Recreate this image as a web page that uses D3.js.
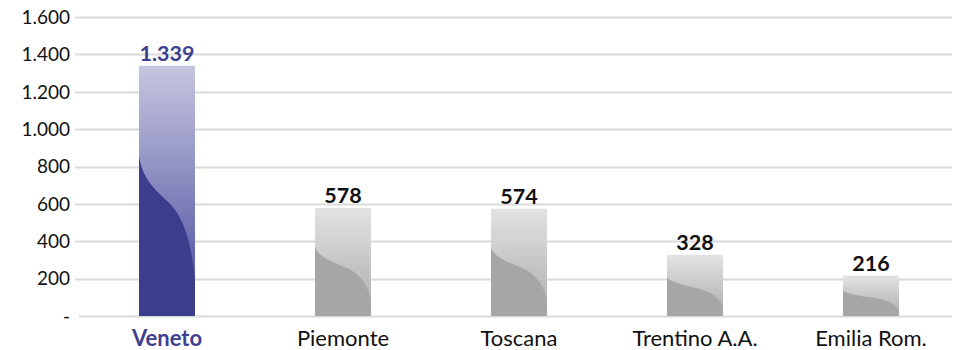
<!DOCTYPE html>
<html>
<head>
<meta charset="utf-8">
<script src="https://cdn.jsdelivr.net/npm/d3@7"></script>
<style>
  html, body { margin: 0; padding: 0; background: #fff; }
  svg { display: block; font-family: Lato, "Open Sans", sans-serif; }
</style>
</head>
<body>
<svg id="chart" width="960" height="350"></svg>
<script>
// Regions and their values
const regions = ["Veneto", "Piemonte", "Toscana", "Trentino A.A.", "Emilia Rom."];
const values = [1339, 578, 574, 328, 216];
const highlighted = ["Veneto"];
const yTicks = [0, 200, 400, 600, 800, 1000, 1200, 1400, 1600];

const svg = d3.select("#chart");
const plot = { left: 79, right: 959, top: 17, bottom: 316 };

const itLocale = d3.formatLocale({ decimal: ",", thousands: ".", grouping: [3], currency: ["€", ""] });
const fmt = itLocale.format(",d");

const x = d3.scaleBand()
  .domain(regions)
  .range([plot.left, plot.right])
  .paddingInner(0.682)
  .paddingOuter(0.341);

const y = d3.scaleLinear()
  .domain([0, 1600])
  .range([plot.bottom, plot.top]);

// Gradients
const defs = svg.append("defs");
function grad(id, top, bottom) {
  const g = defs.append("linearGradient").attr("id", id)
    .attr("x1", 0).attr("y1", 0).attr("x2", 0).attr("y2", 1);
  g.append("stop").attr("offset", "0%").attr("stop-color", top);
  g.append("stop").attr("offset", "100%").attr("stop-color", bottom);
}
grad("gHi", "#C6C6E0", "#44449A");
grad("gLo", "#E3E3E3", "#ABABAB");
const style = {
  hi: { fill: "url(#gHi)", dark: "#3D3D8E", label: "#3F3F90" },
  lo: { fill: "url(#gLo)", dark: "#A6A6A6", label: "#111" }
};
const styleOf = d => highlighted.includes(d) ? style.hi : style.lo;

// Gridlines
svg.append("g").selectAll("line")
  .data(yTicks)
  .join("line")
  .attr("x1", d => d === 0 ? plot.left : 75)
  .attr("x2", 952)
  .attr("y1", d => Math.round(y(d)) + 0.5)
  .attr("y2", d => Math.round(y(d)) + 0.5)
  .attr("stroke", "#DADADA")
  .attr("stroke-width", 2);

// Y axis labels
svg.append("g").selectAll("text")
  .data(yTicks)
  .join("text")
  .attr("x", 70)
  .attr("y", d => y(d))
  .attr("dy", "0.36em")
  .attr("text-anchor", "end")
  .attr("font-size", 19)
  .attr("fill", "#111")
  .text(d => d === 0 ? "-" : fmt(d));

// Bars
const data = regions.map((r, i) => ({ region: r, value: values[i] }));
const bars = svg.append("g").selectAll("g")
  .data(data)
  .join("g");

bars.append("rect")
  .attr("x", d => x(d.region))
  .attr("y", d => y(d.value))
  .attr("width", x.bandwidth())
  .attr("height", d => y(0) - y(d.value))
  .attr("fill", d => styleOf(d.region).fill);

// Darker sweep in the lower part of each bar
bars.append("path")
  .attr("fill", d => styleOf(d.region).dark)
  .attr("d", d => {
    const x0 = x(d.region), w = x.bandwidth();
    const y0 = y(d.value), h = y(0) - y(d.value);
    const P = (fx, fy) => `${x0 + fx * w},${y0 + fy * h}`;
    return `M${P(0, 0.36)} C${P(0.05, 0.45)} ${P(0.3, 0.5)} ${P(0.55, 0.55)}` +
           ` C${P(0.85, 0.62)} ${P(0.95, 0.74)} ${P(1, 0.86)}` +
           ` L${P(1, 1)} L${P(0, 1)} Z`;
  });

// Value labels
bars.append("text")
  .attr("x", d => x(d.region) + x.bandwidth() / 2)
  .attr("y", d => y(d.value) - 5)
  .attr("text-anchor", "middle")
  .attr("font-size", 21.5)
  .attr("font-weight", "bold")
  .attr("fill", d => styleOf(d.region).label)
  .text(d => fmt(d.value));

// Category labels
svg.append("g").selectAll("text")
  .data(regions)
  .join("text")
  .attr("x", d => x(d) + x.bandwidth() / 2)
  .attr("y", 346)
  .attr("text-anchor", "middle")
  .attr("font-size", 22)
  .attr("font-weight", d => highlighted.includes(d) ? "bold" : "normal")
  .attr("fill", d => highlighted.includes(d) ? "#3F3F90" : "#111")
  .text(d => d);
</script>
</body>
</html>
